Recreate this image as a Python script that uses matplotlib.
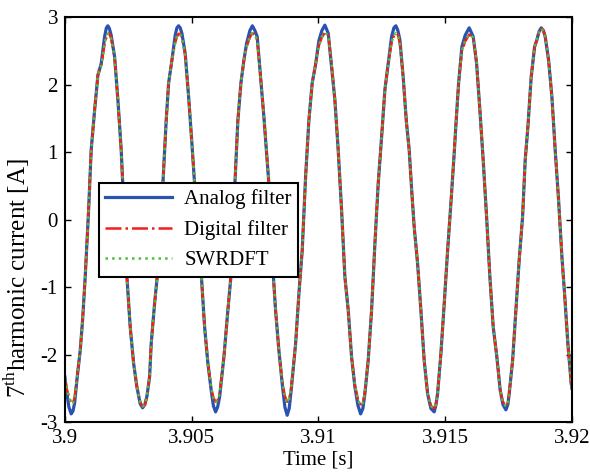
import matplotlib
matplotlib.use('Agg')
import matplotlib.pyplot as plt
import numpy as np

plt.rcParams['font.family'] = 'Liberation Serif'
plt.rcParams['mathtext.fontset'] = 'custom'
plt.rcParams['mathtext.rm'] = 'Liberation Serif'
plt.rcParams['axes.unicode_minus'] = False

# time after 3.9 s, in ms
t_ms = [0.000, 0.079, 0.158, 0.249, 0.316, 0.383, 0.473, 0.604, 0.698, 0.801,
        0.935, 1.037, 1.172, 1.302, 1.432, 1.566, 1.637, 1.696, 1.755, 1.826,
        1.961, 2.091, 2.221, 2.335, 2.446, 2.576, 2.710, 2.840, 2.970, 3.065,
        3.156, 3.235, 3.341, 3.404, 3.539, 3.641, 3.748, 3.866, 3.996, 4.091,
        4.221, 4.351, 4.418, 4.485, 4.548, 4.615, 4.746, 4.880, 5.010, 5.116,
        5.247, 5.377, 5.511, 5.641, 5.771, 5.858, 5.945, 6.024, 6.103, 6.272,
        6.430, 6.560, 6.627, 6.706, 6.824, 6.943, 7.061, 7.168, 7.298, 7.396,
        7.495, 7.586, 7.720, 7.850, 7.980, 8.047, 8.126, 8.217, 8.312, 8.442,
        8.572, 8.679, 8.769, 8.848, 8.927, 9.101, 9.231, 9.361, 9.495, 9.625,
        9.755, 9.890, 10.020, 10.138, 10.256, 10.387, 10.521, 10.651, 10.781, 10.915,
        11.045, 11.176, 11.310, 11.440, 11.558, 11.665, 11.755, 11.834, 11.964, 12.099,
        12.229, 12.359, 12.493, 12.623, 12.753, 12.888, 12.978, 13.057, 13.136, 13.215,
        13.345, 13.471, 13.582, 13.688, 13.779, 13.913, 14.043, 14.174, 14.308, 14.438,
        14.568, 14.635, 14.702, 14.832, 14.963, 15.097, 15.227, 15.357, 15.424, 15.531,
        15.661, 15.791, 15.949, 16.107, 16.241, 16.371, 16.501, 16.635, 16.765, 16.896,
        17.041, 17.172, 17.278, 17.396, 17.475, 17.527, 17.661, 17.791, 17.921, 18.055,
        18.158, 18.264, 18.394, 18.529, 18.619, 18.698, 18.789, 18.876, 18.947, 19.081,
        19.211, 19.341, 19.475, 19.606, 19.712, 19.842, 19.973, 20.000]

analog = [-2.33, -2.58, -2.78, -2.88, -2.84, -2.72, -2.38, -1.94, -1.49, -0.85,
          0.14, 1.03, 1.62, 2.14, 2.31, 2.71, 2.84, 2.87, 2.83, 2.73,
          2.41, 1.77, 1.03, 0.07, -0.85, -1.59, -2.13, -2.48, -2.73, -2.79,
          -2.74, -2.62, -2.33, -1.84, -1.24, -0.85, -0.15, 0.53, 1.47, 2.02,
          2.36, 2.73, 2.84, 2.87, 2.84, 2.76, 2.46, 1.82, 1.13, 0.53,
          -0.15, -0.80, -1.59, -2.13, -2.53, -2.76, -2.85, -2.78, -2.63, -2.04,
          -1.34, -0.80, -0.20, 0.53, 1.47, 2.02, 2.36, 2.61, 2.80, 2.87,
          2.80, 2.71, 2.11, 1.52, 0.88, 0.53, -0.10, -0.80, -1.35, -1.94,
          -2.43, -2.78, -2.90, -2.80, -2.53, -1.84, -1.10, -0.46, 0.63, 1.47,
          2.02, 2.30, 2.65, 2.80, 2.88, 2.76, 2.26, 1.77, 1.03, 0.14,
          -0.85, -1.34, -2.04, -2.48, -2.75, -2.88, -2.80, -2.58, -2.09, -1.34,
          -0.36, 0.53, 1.22, 1.92, 2.31, 2.71, 2.84, 2.87, 2.80, 2.66,
          2.11, 1.45, 1.03, 0.39, -0.11, -0.65, -1.34, -2.09, -2.58, -2.80,
          -2.85, -2.75, -2.58, -1.99, -1.25, -0.46, 0.24, 0.98, 1.40, 2.02,
          2.56, 2.73, 2.84, 2.71, 2.31, 1.62, 0.88, 0.04, -0.85, -1.59,
          -2.04, -2.53, -2.74, -2.82, -2.74, -2.58, -2.09, -1.34, -0.60, 0.04,
          0.88, 1.37, 2.11, 2.56, 2.66, 2.78, 2.84, 2.80, 2.71, 2.36,
          1.82, 1.03, 0.29, -0.55, -1.10, -1.84, -2.43, -2.50]

digital = [-2.38, -2.52, -2.62, -2.72, -2.72, -2.64, -2.36, -1.94, -1.49, -0.85,
           0.14, 1.03, 1.62, 2.14, 2.28, 2.60, 2.70, 2.75, 2.76, 2.68,
           2.40, 1.77, 1.03, 0.07, -0.85, -1.59, -2.13, -2.48, -2.70, -2.77,
           -2.74, -2.62, -2.33, -1.84, -1.24, -0.85, -0.15, 0.53, 1.47, 2.02,
           2.36, 2.62, 2.71, 2.75, 2.75, 2.70, 2.44, 1.82, 1.13, 0.53,
           -0.15, -0.80, -1.59, -2.13, -2.50, -2.64, -2.70, -2.68, -2.58, -2.04,
           -1.34, -0.80, -0.20, 0.53, 1.47, 2.02, 2.36, 2.56, 2.70, 2.76,
           2.74, 2.66, 2.11, 1.52, 0.88, 0.53, -0.10, -0.80, -1.35, -1.94,
           -2.40, -2.62, -2.70, -2.66, -2.50, -1.84, -1.10, -0.46, 0.63, 1.47,
           2.02, 2.30, 2.58, 2.70, 2.77, 2.74, 2.30, 1.77, 1.03, 0.14,
           -0.85, -1.34, -2.04, -2.46, -2.66, -2.74, -2.72, -2.56, -2.09, -1.34,
           -0.36, 0.53, 1.22, 1.92, 2.31, 2.62, 2.72, 2.76, 2.74, 2.62,
           2.11, 1.45, 1.03, 0.39, -0.11, -0.65, -1.34, -2.09, -2.58, -2.76,
           -2.80, -2.74, -2.58, -1.99, -1.25, -0.46, 0.24, 0.98, 1.40, 2.02,
           2.50, 2.64, 2.74, 2.70, 2.33, 1.62, 0.88, 0.04, -0.85, -1.59,
           -2.04, -2.53, -2.70, -2.76, -2.72, -2.58, -2.09, -1.34, -0.60, 0.04,
           0.88, 1.37, 2.11, 2.56, 2.66, 2.78, 2.83, 2.80, 2.71, 2.36,
           1.82, 1.03, 0.29, -0.55, -1.10, -1.84, -2.43, -2.50]

swrdft = [-2.37, -2.52, -2.63, -2.73, -2.72, -2.64, -2.36, -1.94, -1.49, -0.85,
          0.14, 1.03, 1.62, 2.14, 2.28, 2.61, 2.71, 2.75, 2.75, 2.68,
          2.40, 1.77, 1.03, 0.07, -0.85, -1.59, -2.13, -2.48, -2.70, -2.77,
          -2.74, -2.62, -2.33, -1.84, -1.24, -0.85, -0.15, 0.53, 1.47, 2.02,
          2.36, 2.63, 2.72, 2.75, 2.74, 2.70, 2.44, 1.82, 1.13, 0.53,
          -0.15, -0.80, -1.59, -2.13, -2.50, -2.65, -2.71, -2.68, -2.58, -2.04,
          -1.34, -0.80, -0.20, 0.53, 1.47, 2.02, 2.36, 2.56, 2.71, 2.76,
          2.73, 2.66, 2.11, 1.52, 0.88, 0.53, -0.10, -0.80, -1.35, -1.94,
          -2.40, -2.63, -2.71, -2.66, -2.50, -1.84, -1.10, -0.46, 0.63, 1.47,
          2.02, 2.30, 2.58, 2.71, 2.77, 2.73, 2.30, 1.77, 1.03, 0.14,
          -0.85, -1.34, -2.04, -2.46, -2.67, -2.75, -2.72, -2.56, -2.09, -1.34,
          -0.36, 0.53, 1.22, 1.92, 2.31, 2.63, 2.73, 2.76, 2.73, 2.62,
          2.11, 1.45, 1.03, 0.39, -0.11, -0.65, -1.34, -2.09, -2.58, -2.76,
          -2.80, -2.74, -2.58, -1.99, -1.25, -0.46, 0.24, 0.98, 1.40, 2.02,
          2.51, 2.65, 2.74, 2.70, 2.33, 1.62, 0.88, 0.04, -0.85, -1.59,
          -2.04, -2.53, -2.71, -2.77, -2.72, -2.58, -2.09, -1.34, -0.60, 0.04,
          0.88, 1.37, 2.11, 2.56, 2.66, 2.78, 2.83, 2.79, 2.71, 2.36,
          1.82, 1.03, 0.29, -0.55, -1.10, -1.84, -2.43, -2.50]

xticks = [3.9, 3.905, 3.91, 3.915, 3.92]
xticklabels = ['3.9', '3.905', '3.91', '3.915', '3.92']
yticks = [-3, -2, -1, 0, 1, 2, 3]

t = 3.9 + np.array(t_ms) / 1000.0

fig = plt.figure(figsize=(5.9, 4.74), dpi=100)
ax = fig.add_axes([0.110, 0.1097, 0.8593, 0.8544])

ax.plot(t, analog, color='#2a52b0', lw=2.3, label='Analog filter')
ax.plot(t, digital, color='#f01e1e', lw=1.8, ls='-.', label='Digital filter')
ax.plot(t, swrdft, color='#4cc03c', lw=1.8, ls=':', label='SWRDFT')

ax.set_xlim(3.9, 3.92)
ax.set_ylim(-3, 3)
ax.set_xticks(xticks)
ax.set_xticklabels(xticklabels)
ax.set_yticks(yticks)
ax.tick_params(direction='in', top=True, right=True, length=4.5, width=1,
               labelsize=15, pad=5)
for s in ax.spines.values():
    s.set_linewidth(1.5)

ax.set_xlabel('Time [s]', fontsize=15, labelpad=2)
ax.set_ylabel(r'7$^{\mathrm{th}}$harmonic current [A]', fontsize=18)
ax.yaxis.set_label_coords(-0.064, 0.355)

leg = ax.legend(loc='upper left', bbox_to_anchor=(0.067, 0.59), fancybox=False,
                edgecolor='black', framealpha=1, fontsize=15, borderaxespad=0,
                handlelength=3.2, handletextpad=0.6, labelspacing=0.52,
                borderpad=0.3)
leg.get_frame().set_linewidth(1.5)

fig.savefig('out.png', dpi=100)
